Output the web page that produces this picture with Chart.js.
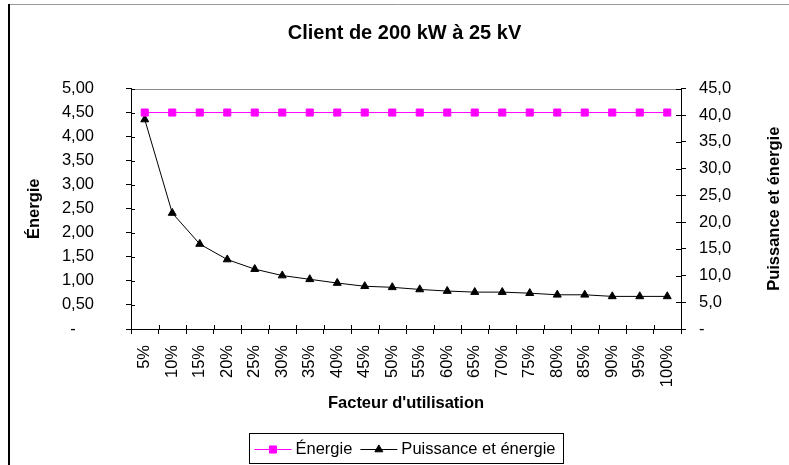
<!DOCTYPE html>
<html>
<head>
<meta charset="utf-8">
<title>Client de 200 kW à 25 kV</title>
<script src="https://cdn.jsdelivr.net/npm/chart.js@4.4.1/dist/chart.umd.min.js"></script>
<style>
	html, body { margin: 0; padding: 0; background: #fff; }
	canvas { display: block; }
</style>
</head>
<body>
<canvas id="chart" width="789" height="465"></canvas>
<script>
// facteur d'utilisation
var categories = ['5%', '10%', '15%', '20%', '25%', '30%', '35%', '40%', '45%', '50%',
	'55%', '60%', '65%', '70%', '75%', '80%', '85%', '90%', '95%', '100%'];

// Énergie (axe gauche)
var energie = [4.5, 4.5, 4.5, 4.5, 4.5, 4.5, 4.5, 4.5, 4.5, 4.5,
	4.5, 4.5, 4.5, 4.5, 4.5, 4.5, 4.5, 4.5, 4.5, 4.5];

// Puissance et énergie (axe droit)
var puissanceEnergie = [39.2, 21.7, 15.9, 13.0, 11.2, 10.0, 9.3, 8.6, 8.0, 7.8,
	7.4, 7.1, 6.9, 6.9, 6.7, 6.4, 6.4, 6.1, 6.1, 6.1];

var leftTickLabels = ['-    ', '0,50', '1,00', '1,50', '2,00', '2,50', '3,00', '3,50', '4,00', '4,50', '5,00'];
var rightTickLabels = ['-', '5,0', '10,0', '15,0', '20,0', '25,0', '30,0', '35,0', '40,0', '45,0'];

var FAMILY = "'Liberation Sans', Arial, sans-serif";
var tickFont = { family: FAMILY, size: 16.5 };
var boldFont = { family: FAMILY, size: 16.5, weight: 'bold' };

// cadre, bordure du graphique, demi-graduations internes, titre de droite, légende
var excelLook = {
	id: 'excelLook',
	beforeDraw: function (chart) {
		var ctx = chart.ctx;
		ctx.save();
		ctx.fillStyle = '#fff';
		ctx.fillRect(0, 0, chart.width, chart.height);
		ctx.strokeStyle = '#999';
		ctx.lineWidth = 1;
		ctx.beginPath();
		ctx.moveTo(8, 4.5);
		ctx.lineTo(chart.width, 4.5);
		ctx.stroke();
		ctx.strokeStyle = '#000';
		ctx.lineWidth = 2;
		ctx.beginPath();
		ctx.moveTo(9, 4);
		ctx.lineTo(9, chart.height);
		ctx.stroke();
		ctx.restore();
	},
	beforeDatasetsDraw: function (chart) {
		var a = chart.chartArea, ctx = chart.ctx;
		ctx.save();
		ctx.strokeStyle = '#888';
		ctx.lineWidth = 1;
		ctx.beginPath();
		ctx.moveTo(a.left, Math.round(a.top) + 0.5);
		ctx.lineTo(a.right, Math.round(a.top) + 0.5);
		ctx.stroke();
		ctx.restore();
	},
	afterDraw: function (chart) {
		var ctx = chart.ctx;
		var sx = chart.scales.x, sy = chart.scales.y, sy1 = chart.scales.y1;
		var a = chart.chartArea;
		ctx.save();
		ctx.strokeStyle = '#000';
		ctx.lineWidth = 1;
		ctx.beginPath();
		sy.ticks.forEach(function (t, i) {
			var py = Math.round(sy.getPixelForTick(i)) + 0.5;
			ctx.moveTo(a.left, py);
			ctx.lineTo(a.left + 4, py);
		});
		sy1.ticks.forEach(function (t, i) {
			var py = Math.round(sy1.getPixelForTick(i)) + 0.5;
			ctx.moveTo(a.right, py);
			ctx.lineTo(a.right - 5, py);
		});
		for (var i = 0; i <= categories.length; i++) {
			var px = Math.round(sx.getPixelForValue(i - 0.5)) + 0.5;
			ctx.moveTo(px, a.bottom);
			ctx.lineTo(px, a.bottom - 4);
		}
		ctx.stroke();

		// titre de l'axe de droite, lu de bas en haut
		ctx.fillStyle = '#000';
		ctx.font = 'bold 16.5px ' + FAMILY;
		ctx.textAlign = 'center';
		ctx.textBaseline = 'middle';
		ctx.translate(774, (a.top + a.bottom) / 2);
		ctx.rotate(-Math.PI / 2);
		ctx.fillText('Puissance et énergie', 0, 0);
		ctx.restore();

		// légende
		ctx.save();
		ctx.font = '16.5px ' + FAMILY;
		ctx.textBaseline = 'middle';
		ctx.textAlign = 'left';
		var items = chart.data.datasets.map(function (d) {
			return { ds: d, w: ctx.measureText(d.label).width };
		});
		var lineLen = 37, gap = 4, between = 8, padL = 5, padR = 8;
		var total = padL + padR;
		items.forEach(function (it, k) { total += lineLen + gap + it.w + (k ? between : 0); });
		var bx = Math.round((a.left + a.right) / 2 - total / 2) + 0.5;
		var by = 433.5, bh = 30, cy = Math.round(by + bh / 2) + 0.5;
		ctx.strokeStyle = '#000';
		ctx.lineWidth = 1;
		ctx.strokeRect(bx, by, Math.round(total), bh);
		var x = bx + padL;
		items.forEach(function (it, k) {
			if (k) x += between;
			var d = it.ds;
			ctx.lineWidth = 1;
			ctx.strokeStyle = d.borderColor;
			ctx.fillStyle = d.pointBackgroundColor;
			ctx.beginPath();
			ctx.moveTo(x, cy);
			ctx.lineTo(x + lineLen, cy);
			ctx.stroke();
			Chart.helpers.drawPoint(ctx, {
				pointStyle: d.pointStyle, radius: d.pointRadius, rotation: 0,
				borderWidth: 1
			}, x + lineLen / 2, cy);
			x += lineLen + gap;
			ctx.fillStyle = '#000';
			ctx.fillText(d.label, x, cy);
			x += it.w;
		});
		ctx.restore();
	}
};

new Chart(document.getElementById('chart'), {
	type: 'line',
	data: {
		labels: categories,
		datasets: [
			{
				label: 'Énergie',
				data: energie,
				yAxisID: 'y',
				borderColor: '#FF00FF',
				backgroundColor: '#FF00FF',
				pointBackgroundColor: '#FF00FF',
				pointBorderColor: '#FF00FF',
				pointStyle: 'rect',
				pointRadius: 5,
				borderWidth: 1,
				tension: 0
			},
			{
				label: 'Puissance et énergie',
				data: puissanceEnergie,
				yAxisID: 'y1',
				borderColor: '#000000',
				backgroundColor: '#000000',
				pointBackgroundColor: '#000000',
				pointBorderColor: '#000000',
				pointStyle: 'triangle',
				pointRadius: 4.6,
				borderWidth: 1,
				tension: 0
			}
		]
	},
	options: {
		responsive: false,
		animation: false,
		layout: { padding: { left: 25, right: 5, top: 0, bottom: 52 } },
		plugins: {
			legend: { display: false },
			tooltip: { enabled: false },
			title: {
				display: true,
				text: 'Client de 200 kW à 25 kV',
				color: '#000',
				font: { family: FAMILY, size: 20, weight: 'bold' },
				padding: { top: 21, bottom: 43.5 }
			}
		},
		scales: {
			x: {
				offset: true,
				grid: { offset: true, drawOnChartArea: false, color: '#000', tickLength: 5 },
				border: { color: '#000', width: 1 },
				ticks: { autoSkip: false, minRotation: 90, maxRotation: 90, padding: 11, color: '#000', font: tickFont },
				title: { display: true, text: "Facteur d'utilisation", color: '#000', font: boldFont, padding: 0 },
				afterFit: function (s) { s.height = 84; }
			},
			y: {
				position: 'left',
				min: 0,
				max: 5,
				grid: { drawOnChartArea: false, color: '#000', tickLength: 5 },
				border: { color: '#000', width: 1 },
				ticks: {
					stepSize: 0.5, padding: 32, color: '#000', font: tickFont,
					callback: function (v, i) { return leftTickLabels[i]; }
				},
				title: { display: true, text: 'Énergie', color: '#000', font: boldFont, padding: 0 },
				afterFit: function (s) { s.width = 106; }
			},
			y1: {
				position: 'right',
				min: 0,
				max: 45,
				grid: { drawOnChartArea: false, color: '#000', tickLength: 5 },
				border: { color: '#000', width: 1 },
				ticks: {
					stepSize: 5, padding: 13, color: '#000', font: tickFont,
					callback: function (v, i) { return rightTickLabels[i]; }
				},
				afterFit: function (s) { s.width = 103; }
			}
		}
	},
	plugins: [excelLook]
});
</script>
</body>
</html>
